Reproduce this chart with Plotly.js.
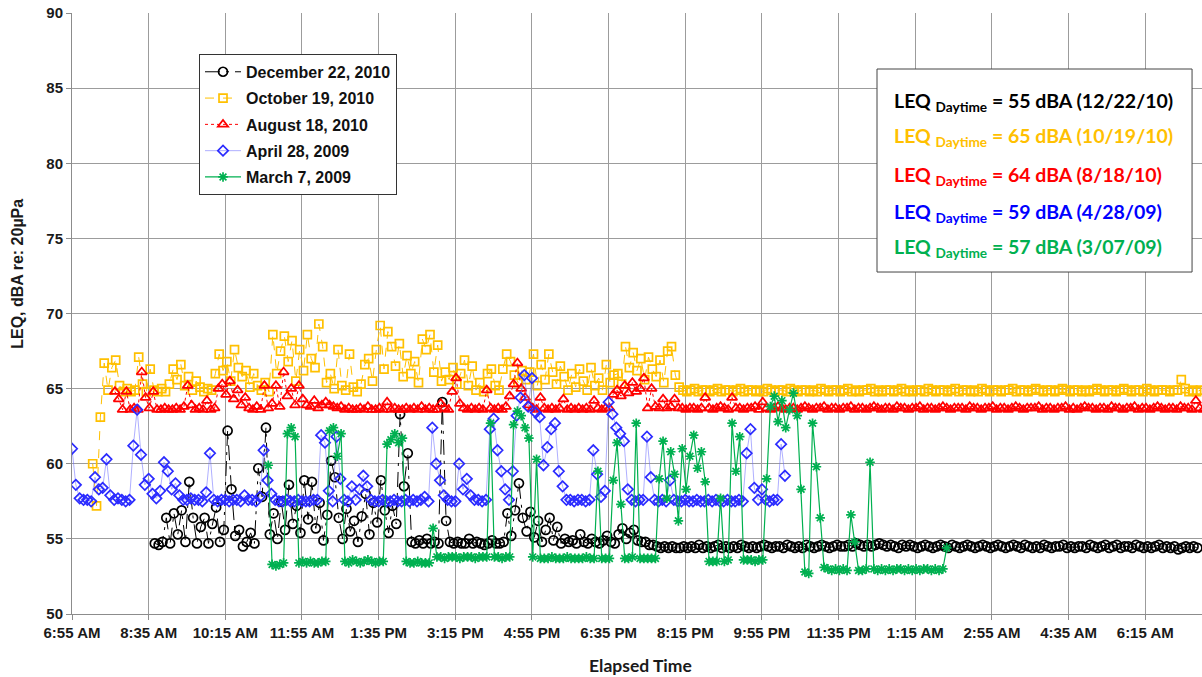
<!DOCTYPE html>
<html>
<head>
<meta charset="utf-8">
<script src="https://cdn.plot.ly/plotly-3.0.1.min.js"></script>
<style>html,body{margin:0;padding:0;background:#fff;}#chart{width:1202px;height:677px;}</style>
</head>
<body>
<div id="chart"></div>
<script>
// ---------- DATA (minutes elapsed since 6:55 AM, 5-minute samples) ----------
const STEP_MIN = 5;
const tickMinutes = [0,100,200,300,400,500,600,700,800,900,1000,1100,1200,1300,1400];
const tickLabels = ['6:55 AM','8:35 AM','10:15 AM','11:55 AM','1:35 PM','3:15 PM','4:55 PM','6:35 PM','8:15 PM','9:55 PM','11:35 PM','1:15 AM','2:55 AM','4:35 AM','6:15 AM'];

const seriesNames = ['December 22, 2010','October 19, 2010','August 18, 2010','April 28, 2009','March 7, 2009'];
const seriesStart = [108, 27, 56, 0, 256];

const dec22 = [
54.7,54.6,54.8,56.4,54.7,56.7,55.3,56.9,54.8,58.8,
56.4,54.7,55.8,56.4,54.7,56.0,57.1,54.8,55.6,62.2,
58.3,55.2,55.6,54.5,54.8,55.4,54.7,59.7,57.8,62.4,
55.3,56.7,55.0,57.5,55.6,58.6,56.0,57.2,55.4,58.9,
56.3,58.8,55.7,57.4,54.9,56.6,60.2,59.1,56.4,55.0,
57.0,55.5,56.2,54.8,56.5,58.0,55.3,57.4,56.1,58.9,
56.9,55.4,57.2,56.0,63.3,58.5,60.7,54.8,54.7,54.9,
54.7,55.0,54.7,54.8,54.7,64.1,56.2,54.8,54.7,54.8,
54.7,54.7,55.0,54.7,54.8,54.7,54.6,54.7,54.9,54.7,
54.7,54.8,56.7,55.2,56.9,58.7,56.4,55.5,56.8,55.1,
56.2,54.8,55.6,56.4,54.9,55.8,54.7,55.0,54.8,54.9,
54.7,55.3,54.8,54.7,55.0,54.8,54.7,54.9,55.2,54.8,
54.7,55.3,55.7,55.0,55.4,55.6,54.9,54.8,54.8,54.6,
54.6,54.5,54.4,54.5,54.4,54.5,54.4,54.4,54.5,54.4,
54.5,54.4,54.6,54.4,54.5,54.4,54.5,54.6,54.4,54.5,
54.4,54.5,54.4,54.6,54.5,54.4,54.5,54.4,54.5,54.6,
54.5,54.4,54.5,54.5,54.4,54.6,54.5,54.4,54.5,54.4,
54.6,54.5,54.4,54.5,54.6,54.5,54.4,54.5,54.6,54.5,
54.5,54.6,54.5,54.7,54.6,54.5,54.6,54.5,54.6,54.7,
54.6,54.5,54.6,54.5,54.4,54.6,54.5,54.6,54.5,54.4,
54.5,54.6,54.5,54.4,54.5,54.6,54.5,54.4,54.6,54.5,
54.4,54.5,54.6,54.5,54.4,54.5,54.6,54.5,54.4,54.5,
54.6,54.5,54.4,54.5,54.6,54.5,54.4,54.6,54.5,54.4,
54.5,54.4,54.6,54.5,54.4,54.5,54.5,54.6,54.4,54.5,
54.4,54.5,54.5,54.4,54.6,54.5,54.4,54.5,54.6,54.4,
54.5,54.6,54.4,54.5,54.5,54.4,54.6,54.5,54.4,54.5,
54.4,54.5,54.6,54.4,54.5,54.4,54.5,54.3,54.4,54.5,
54.4,54.5,54.4
];

const oct19 = [
60.0,57.2,63.1,66.7,64.9,66.4,66.9,65.2,64.8,65.0,
64.8,64.9,67.1,65.3,64.8,66.3,64.9,64.8,65.0,64.8,
65.3,66.3,65.6,66.6,65.2,65.8,64.9,65.5,65.1,64.8,
65.0,64.9,66.0,67.3,66.2,66.8,65.5,67.6,66.4,65.8,
66.2,65.1,66.0,65.2,64.9,65.4,64.8,68.6,66.0,67.5,
68.5,66.8,68.2,65.5,67.6,66.2,68.6,67.0,66.4,69.3,
67.8,65.4,66.0,65.0,67.6,65.2,64.9,67.3,65.1,64.8,
65.3,66.6,67.0,65.5,67.6,69.2,66.3,68.8,67.8,66.5,
68.0,65.8,67.2,66.0,66.8,65.4,68.3,67.6,68.6,66.1,
67.9,65.5,66.1,65.6,66.4,65.3,66.0,66.9,65.2,66.5,
64.9,65.4,64.8,66.0,66.3,65.2,64.9,66.3,67.3,66.8,
65.9,65.4,66.2,65.6,66.1,67.3,65.2,66.6,65.6,67.3,
66.1,65.3,66.5,65.8,64.9,66.0,65.1,66.3,65.5,64.9,
66.4,65.2,65.7,64.9,66.6,65.4,65.9,66.0,65.3,67.8,
66.4,67.4,66.2,67.0,65.6,67.1,66.3,65.8,66.9,65.4,
67.5,67.8,65.9,65.1,64.9,64.8,64.9,65.0,64.8,64.9,
64.9,64.8,64.9,65.0,64.8,64.9,64.9,64.8,64.9,65.0,
64.8,64.9,64.9,64.8,64.9,64.8,65.0,64.9,64.8,64.9,
64.9,64.8,65.0,64.9,64.8,64.9,64.9,64.8,64.9,64.8,
65.0,64.9,64.8,64.9,64.9,64.8,64.9,65.0,64.8,64.9,
64.8,64.9,64.9,65.0,64.8,64.9,64.8,64.9,64.9,64.8,
64.9,65.0,64.8,64.9,64.8,64.9,64.9,64.8,65.0,64.9,
64.8,64.9,64.9,64.8,64.9,65.0,64.8,64.9,64.9,64.8,
64.9,64.8,65.0,64.9,64.8,64.9,64.9,64.8,64.9,64.9,
65.0,64.8,64.9,64.9,64.8,64.9,65.0,64.9,64.8,64.9,
64.9,64.8,64.9,65.0,64.9,64.8,64.9,64.9,64.8,64.9,
64.8,64.9,65.0,64.9,64.8,64.9,64.9,64.8,64.9,65.0,
64.9,64.8,64.9,64.9,64.8,65.0,64.9,64.8,64.9,64.9,
64.9,64.8,64.9,64.9,65.6,65.0,64.8,64.9,64.8,64.9
];

const aug18 = [
64.8,64.3,63.6,64.8,63.6,63.7,63.6,66.1,64.4,63.7,
64.8,63.6,63.6,63.7,63.6,63.6,63.7,63.6,63.8,65.2,
63.9,63.6,63.7,63.6,64.2,63.6,63.7,65.0,65.3,64.6,
65.5,64.3,64.9,63.9,64.4,63.7,63.6,63.8,63.6,65.2,
63.7,64.0,65.2,63.8,66.1,64.5,65.0,63.9,65.2,64.3,
63.9,63.8,64.2,63.7,63.9,64.1,63.9,63.8,63.7,63.8,
63.6,63.7,63.6,63.6,63.7,63.6,63.8,63.6,63.6,63.7,
63.6,64.1,63.6,63.7,63.6,63.6,63.7,63.6,63.7,63.6,
63.8,63.6,63.7,63.6,63.6,64.0,63.7,63.6,64.8,65.7,
64.0,63.7,63.6,63.7,63.6,63.7,63.6,64.9,63.7,63.6,
63.7,63.6,63.8,64.5,65.3,66.7,65.0,64.4,63.9,63.7,
63.6,64.4,63.7,63.6,63.7,63.6,63.7,64.3,63.6,63.7,
63.6,63.7,63.6,63.7,63.6,64.2,63.7,63.6,63.7,63.7,
64.6,64.9,64.5,65.2,64.7,65.4,64.8,65.0,65.7,63.7,
65.0,63.8,63.7,64.3,63.7,63.8,64.3,63.7,63.7,63.6,
63.7,63.7,63.6,63.7,64.4,63.7,63.6,63.7,63.8,63.7,
63.6,64.4,63.7,63.7,63.6,63.7,63.7,63.8,63.6,64.1,
63.7,63.6,63.7,63.8,63.7,63.6,63.7,63.7,63.6,63.7,
63.8,63.7,63.6,63.7,63.7,63.8,63.6,63.7,63.7,63.6,
63.7,63.7,63.8,63.6,63.7,63.7,63.6,63.7,63.8,63.7,
63.6,63.7,63.7,63.6,63.8,63.7,63.7,63.6,63.7,63.7,
63.8,63.6,63.7,63.7,63.6,63.7,63.8,63.7,63.6,63.7,
63.7,63.7,63.6,63.8,63.7,63.7,63.6,63.7,63.7,63.8,
63.6,63.7,63.7,63.6,63.7,63.8,63.7,63.6,63.7,63.7,
63.7,63.8,63.6,63.7,63.7,63.6,63.7,63.7,63.8,63.6,
63.7,63.6,63.7,63.8,63.7,63.7,63.6,63.7,63.7,63.6,
63.8,63.7,63.7,63.6,63.7,63.7,63.8,63.6,63.7,63.7,
63.6,63.7,63.8,63.7,63.6,63.7,63.7,63.6,63.8,63.7,
63.7,63.6,64.2,63.7,63.6,63.7,63.7,64.7
];

const apr28 = [
61.0,58.6,57.7,57.6,57.6,57.5,59.1,58.3,58.4,60.3,
57.9,57.6,57.7,57.6,57.5,57.6,61.2,63.6,60.6,58.6,
59.0,58.0,57.7,58.2,60.1,59.5,58.3,58.7,57.9,57.6,
57.6,57.7,57.6,57.6,57.5,58.1,60.7,57.6,57.5,57.6,
57.6,57.5,57.6,57.6,57.5,57.9,57.6,57.6,57.5,57.8,
60.9,58.9,58.0,57.6,57.5,57.5,57.6,57.5,57.5,57.6,
57.5,57.5,57.5,57.6,57.6,61.9,61.4,58.2,57.5,61.8,
59.0,57.6,57.5,58.5,57.6,58.3,59.2,58.5,57.6,57.5,
57.5,57.6,57.5,57.5,57.6,57.5,57.5,57.6,57.5,57.6,
57.5,57.6,57.8,57.5,62.4,60.0,58.9,57.9,57.6,57.5,
57.5,60.0,58.3,59.0,57.9,57.6,57.6,57.5,57.6,62.3,
63.0,60.9,59.5,58.3,57.6,59.5,63.2,64.4,65.9,63.8,
65.7,63.4,63.1,59.9,61.1,62.3,62.7,59.5,58.5,57.6,
57.6,57.5,57.6,57.6,57.5,57.6,60.9,59.3,57.8,58.2,
64.1,63.3,62.4,62.0,61.5,58.3,57.6,57.5,57.6,57.6,
61.8,59.1,57.6,57.5,57.6,57.5,58.9,57.6,57.5,57.5,
57.6,57.5,57.5,57.6,57.5,57.5,57.6,57.5,57.6,57.5,
57.5,57.6,57.5,57.5,57.6,57.5,60.7,62.3,58.4,57.6,
58.3,57.6,57.5,57.6,57.6,61.3,59.2
];

const mar7 = [
59.9,53.3,53.2,53.3,53.4,62.0,62.4,61.8,53.4,53.5,
53.4,53.5,53.4,53.4,53.5,53.5,62.2,62.4,60.5,62.0,
53.5,53.4,53.6,53.5,53.4,53.5,53.6,53.5,53.4,53.5,
53.5,61.3,61.6,62.0,61.4,61.7,53.5,53.4,53.4,53.5,
53.4,53.4,53.4,55.7,53.8,53.8,53.7,53.8,53.8,53.8,
53.7,53.8,53.8,53.8,53.7,53.8,53.8,53.8,62.7,53.8,
53.8,53.7,53.8,53.8,62.6,63.5,63.2,62.4,61.7,53.8,
60.3,53.7,53.7,53.7,53.8,53.7,53.7,53.7,53.8,53.7,
53.7,53.7,53.7,53.8,53.7,53.7,59.5,53.7,53.7,53.7,
58.9,61.4,57.3,53.7,53.7,53.8,62.7,53.7,53.7,53.7,
53.7,53.7,59.0,61.5,57.7,60.8,59.3,56.2,61.0,58.3,
60.5,61.9,59.7,60.8,58.8,53.5,53.5,53.5,57.7,53.5,
53.6,62.7,59.5,61.8,53.6,53.6,53.6,53.5,53.6,53.6,
59.0,63.8,64.5,62.8,64.2,62.4,63.6,64.7,63.2,58.3,
52.8,52.7,62.7,59.8,56.4,53.1,53.0,52.9,53.0,52.9,
53.0,52.9,56.6,54.8,52.9,52.9,53.0,60.1,53.0,52.9,
53.0,52.9,53.0,52.9,53.0,53.0,52.9,53.0,52.9,53.0,
52.9,53.0,53.0,52.9,53.0,52.9,53.0,54.4
];

const seriesValues = [dec22, oct19, aug18, apr28, mar7];

const summaryLines = [
  'LEQ <sub>Daytime</sub> = 55 dBA (12/22/10)',
  'LEQ <sub>Daytime</sub> = 65 dBA (10/19/10)',
  'LEQ <sub>Daytime</sub> = 64 dBA (8/18/10)',
  'LEQ <sub>Daytime</sub> = 59 dBA (4/28/09)',
  'LEQ <sub>Daytime</sub> = 57 dBA (3/07/09)'
];
const yTitle = 'LEQ, dBA re: 20µPa';
const xTitle = 'Elapsed Time';

// ---------- STYLES ----------
const styles = [
  {color:'#000000', lineColor:'#000000', dash:'longdashdot', symbol:'circle-open', size:9, lw:1},
  {color:'#FFC000', lineColor:'#FFC000', dash:'dash', symbol:'square-open', size:8, lw:1},
  {color:'#FF0000', lineColor:'#FF0000', dash:'dot', symbol:'triangle-up-open', size:9, lw:1},
  {color:'#2B2BFF', lineColor:'rgba(110,110,255,0.55)', dash:'solid', symbol:'diamond-open', size:8, lw:1},
  {color:'#00B050', lineColor:'#00B050', dash:'solid', symbol:'asterisk-open', size:8, lw:1.2}
];

const traces = seriesValues.map((vals, k) => {
  const st = styles[k];
  return {
    type:'scatter', mode:'lines+markers', name: seriesNames[k],
    legendgroup: 'g'+k,
    x: vals.map((_, i) => seriesStart[k] + i*STEP_MIN),
    y: vals,
    line: {color: st.lineColor, width: st.lw, dash: st.dash},
    marker: {symbol: st.symbol, size: st.size, color: st.color, line: {color: st.color, width: 1.7}},
    hoverinfo: 'skip'
  };
});

const annoColors = ['#000000','#FFC000','#FF0000','#0000FF','#00B050'];
const annoY = [0.852, 0.794, 0.729, 0.667, 0.609];
const annotations = summaryLines.map((t, k) => ({
  xref:'paper', yref:'paper', x:0.7257, y:annoY[k], xanchor:'left', yanchor:'middle',
  text: t, showarrow:false, align:'left',
  font:{family:'Lato, "Open Sans", sans-serif', size:19.5, weight:'bold', color: annoColors[k]}
}));
annotations.push({
  xref:'paper', yref:'paper', x:-0.0478, y:0.566, xanchor:'center', yanchor:'middle',
  text: yTitle, textangle:-90, showarrow:false,
  font:{family:'Arial, "Liberation Sans", sans-serif', size:16, weight:'bold', color:'#1a1a1a'}
});
annotations.push({
  xref:'paper', yref:'paper', x:0.503, y:-0.085, xanchor:'center', yanchor:'middle',
  text: xTitle, showarrow:false,
  font:{family:'Lato, "Open Sans", sans-serif', size:17.5, weight:'bold', color:'#1a1a1a'}
});

const axisFont = {family:'Arial, "Liberation Sans", sans-serif', size:15, weight:'bold', color:'#1a1a1a'};

const layout = {
  width:1202, height:677,
  margin:{l:72, r:0, t:13, b:63},
  paper_bgcolor:'#ffffff', plot_bgcolor:'#ffffff',
  showlegend:true,
  legend:{
    x:0.1124, y:0.932, xanchor:'left', yanchor:'top',
    bgcolor:'#ffffff', bordercolor:'#333333', borderwidth:1,
    font:{family:'Arial, "Liberation Sans", sans-serif', size:16, weight:'bold', color:'#111111'},
    tracegroupgap:2.5, itemwidth:36
  },
  xaxis:{
    range:[0,1474], tickmode:'array', tickvals:tickMinutes, ticktext:tickLabels,
    showgrid:true, gridcolor:'#9c9c9c', gridwidth:1,
    showline:true, linecolor:'#8c8c8c', linewidth:1,
    ticks:'outside', ticklen:5, tickcolor:'#8c8c8c',
    tickfont:axisFont, zeroline:false, automargin:false
  },
  yaxis:{
    range:[50,90], tickmode:'linear', tick0:50, dtick:5,
    showgrid:true, gridcolor:'#9c9c9c', gridwidth:1,
    showline:true, linecolor:'#8c8c8c', linewidth:1,
    ticks:'outside', ticklen:5, tickcolor:'#8c8c8c',
    tickfont:axisFont, zeroline:false, automargin:false
  },
  shapes:[{
    type:'rect', xref:'paper', yref:'paper', x0:0.7124, x1:0.9912, y0:0.569, y1:0.9068,
    line:{color:'#444444', width:1}, fillcolor:'#ffffff', layer:'above'
  }],
  annotations: annotations
};

Plotly.newPlot('chart', traces, layout, {displayModeBar:false, staticPlot:true});
</script>
</body>
</html>
